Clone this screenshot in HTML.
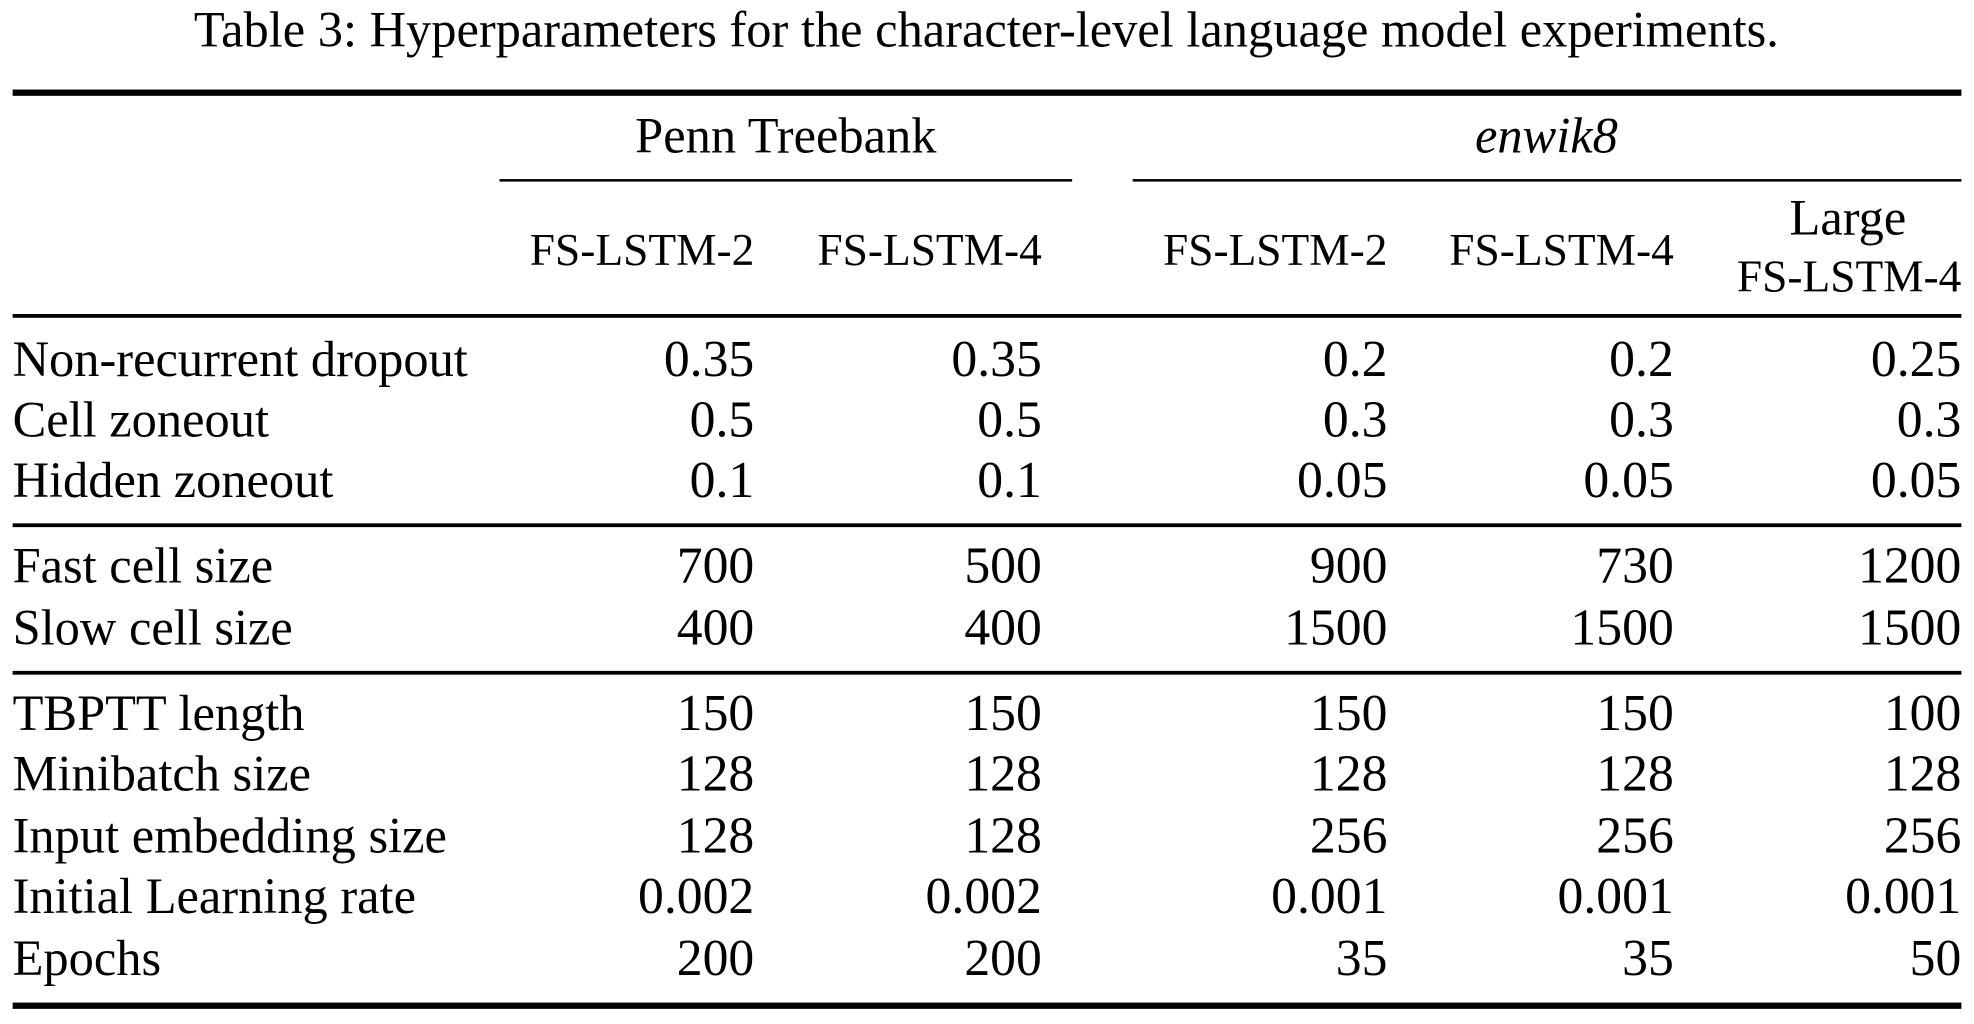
<!DOCTYPE html>
<html>
<head>
<meta charset="utf-8">
<style>
  html,body{margin:0;padding:0;background:#fff;}
  svg{display:block;}
  text{font-family:"Liberation Serif","Times New Roman",serif;fill:#000;}
</style>
</head>
<body>
<svg width="1974" height="1024" viewBox="0 0 1565 812" preserveAspectRatio="none" xmlns="http://www.w3.org/2000/svg">
  <text x="782" y="37" font-size="40" text-anchor="middle">Table 3: Hyperparameters for the character-level language model experiments.</text>
  <rect x="10" y="71" width="1545" height="5"/>

  <text x="623" y="121" font-size="40" text-anchor="middle">Penn Treebank</text>
  <text x="1226" y="121" font-size="40" text-anchor="middle" font-style="italic">enwik8</text>
  <rect x="396" y="142" width="454" height="2"/>
  <rect x="898" y="142" width="657" height="2"/>

  <g font-size="36" text-anchor="end">
    <text x="598" y="210">FS-LSTM-2</text>
    <text x="826" y="210">FS-LSTM-4</text>
    <text x="1100" y="210">FS-LSTM-2</text>
    <text x="1327" y="210">FS-LSTM-4</text>
    <text x="1465" y="186" text-anchor="middle" font-size="40">Large</text>
    <text x="1555" y="231">FS-LSTM-4</text>
  </g>
  <rect x="10" y="249" width="1545" height="3"/>

  <g font-size="41">
    <g font-size="40">
      <text x="10" y="298">Non-recurrent dropout</text>
      <text x="10" y="346">Cell zoneout</text>
      <text x="10" y="394">Hidden zoneout</text>
      <text x="10" y="462">Fast cell size</text>
      <text x="10" y="511">Slow cell size</text>
      <text x="10" y="579">TBPTT length</text>
      <text x="10" y="627">Minibatch size</text>
      <text x="10" y="676">Input embedding size</text>
      <text x="10" y="724">Initial Learning rate</text>
      <text x="10" y="773">Epochs</text>
    </g>
    <g text-anchor="end">
      <text x="598" y="298">0.35</text><text x="598" y="346">0.5</text><text x="598" y="394">0.1</text>
      <text x="598" y="462">700</text><text x="598" y="511">400</text>
      <text x="598" y="579">150</text><text x="598" y="627">128</text><text x="598" y="676">128</text><text x="598" y="724">0.002</text><text x="598" y="773">200</text>
    </g>
    <g text-anchor="end">
      <text x="826" y="298">0.35</text><text x="826" y="346">0.5</text><text x="826" y="394">0.1</text>
      <text x="826" y="462">500</text><text x="826" y="511">400</text>
      <text x="826" y="579">150</text><text x="826" y="627">128</text><text x="826" y="676">128</text><text x="826" y="724">0.002</text><text x="826" y="773">200</text>
    </g>
    <g text-anchor="end">
      <text x="1100" y="298">0.2</text><text x="1100" y="346">0.3</text><text x="1100" y="394">0.05</text>
      <text x="1100" y="462">900</text><text x="1100" y="511">1500</text>
      <text x="1100" y="579">150</text><text x="1100" y="627">128</text><text x="1100" y="676">256</text><text x="1100" y="724">0.001</text><text x="1100" y="773">35</text>
    </g>
    <g text-anchor="end">
      <text x="1327" y="298">0.2</text><text x="1327" y="346">0.3</text><text x="1327" y="394">0.05</text>
      <text x="1327" y="462">730</text><text x="1327" y="511">1500</text>
      <text x="1327" y="579">150</text><text x="1327" y="627">128</text><text x="1327" y="676">256</text><text x="1327" y="724">0.001</text><text x="1327" y="773">35</text>
    </g>
    <g text-anchor="end">
      <text x="1555" y="298">0.25</text><text x="1555" y="346">0.3</text><text x="1555" y="394">0.05</text>
      <text x="1555" y="462">1200</text><text x="1555" y="511">1500</text>
      <text x="1555" y="579">100</text><text x="1555" y="627">128</text><text x="1555" y="676">256</text><text x="1555" y="724">0.001</text><text x="1555" y="773">50</text>
    </g>
  </g>
  <rect x="10" y="415" width="1545" height="3"/>
  <rect x="10" y="532" width="1545" height="3"/>
  <rect x="10" y="795" width="1545" height="5"/>
</svg>
</body>
</html>
